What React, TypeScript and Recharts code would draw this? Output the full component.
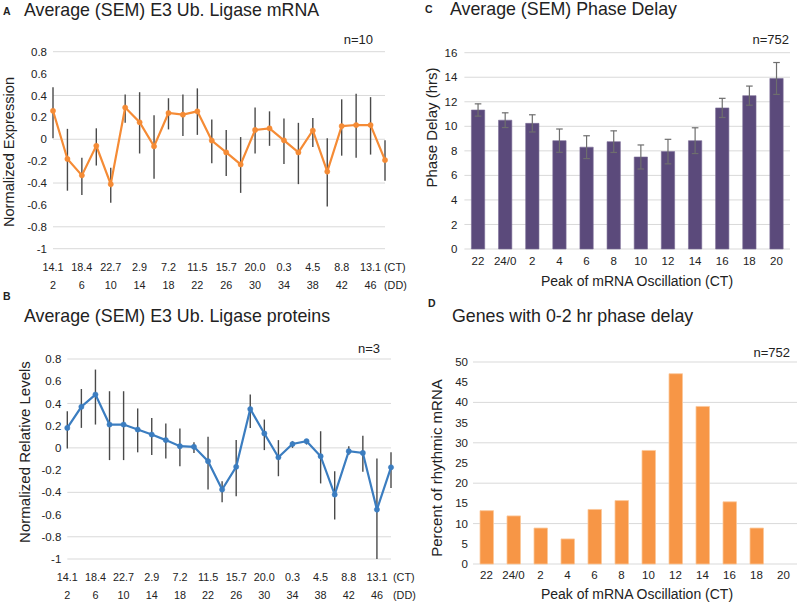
import React from 'react';
import { LineChart, Line, BarChart, Bar, XAxis, YAxis, CartesianGrid, ErrorBar } from 'recharts';

// ---------- Panel A / B: time course ----------
const ddHours = [2, 4, 6, 8, 10, 12, 14, 16, 18, 20, 22, 24, 26, 28, 30, 32, 34, 36, 38, 40, 42, 44, 46, 48];
const ctLabels = ['14.1', '', '18.4', '', '22.7', '', '2.9', '', '7.2', '', '11.5', '', '15.7', '', '20.0', '', '0.3', '', '4.5', '', '8.8', '', '13.1', ''];
const ddLabels = ['2', '', '6', '', '10', '', '14', '', '18', '', '22', '', '26', '', '30', '', '34', '', '38', '', '42', '', '46', ''];

const mrnaMean = [0.26, -0.18, -0.33, -0.06, -0.41, 0.29, 0.155, -0.065, 0.24, 0.225, 0.255, -0.012, -0.12, -0.23, 0.085, 0.1, -0.01, -0.12, 0.08, -0.295, 0.12, 0.13, 0.13, -0.19];
const mrnaUpper = [0.475, 0.095, -0.17, 0.1, -0.26, 0.41, 0.43, 0.22, 0.375, 0.41, 0.465, 0.18, 0.085, 0.02, 0.29, 0.255, 0.19, 0.15, 0.195, 0.01, 0.365, 0.415, 0.385, -0.01];
const mrnaLower = [0.01, -0.47, -0.51, -0.24, -0.58, 0.15, -0.13, -0.36, 0.09, 0.03, 0.04, -0.22, -0.335, -0.49, -0.13, -0.06, -0.225, -0.41, -0.07, -0.615, -0.15, -0.17, -0.14, -0.38];

const proteinMean = [0.18, 0.37, 0.48, 0.21, 0.21, 0.165, 0.12, 0.07, 0.015, 0.01, -0.12, -0.375, -0.17, 0.35, 0.13, -0.085, 0.035, 0.06, -0.075, -0.42, -0.03, -0.045, -0.555, -0.175];
const proteinUpper = [0.33, 0.53, 0.705, 0.51, 0.51, 0.355, 0.27, 0.22, 0.175, 0.05, 0.1, -0.3, 0.07, 0.48, 0.255, 0.07, 0.06, 0.08, 0.15, -0.21, 0.015, 0.11, -0.095, -0.04];
const proteinLower = [-0.005, 0.18, 0.21, -0.11, -0.11, -0.04, -0.065, -0.095, -0.165, -0.045, -0.375, -0.49, -0.435, 0.18, -0.02, -0.255, 0.0, 0.03, -0.32, -0.645, -0.065, -0.215, -1.0, -0.36];

const normTicks = [-1, -0.8, -0.6, -0.4, -0.2, 0, 0.2, 0.4, 0.6, 0.8];

// ---------- Panel C / D: by peak phase ----------
const peakPhases = ['22', '24/0', '2', '4', '6', '8', '10', '12', '14', '16', '18', '20'];
const phaseDelay = [11.33, 10.5, 10.24, 8.83, 8.3, 8.75, 7.5, 7.94, 8.83, 11.5, 12.5, 13.9];
const phaseSem = [0.5, 0.6, 0.7, 0.95, 0.93, 0.88, 0.98, 1.0, 1.05, 0.78, 0.78, 1.3];
const delayTicks = [0, 2, 4, 6, 8, 10, 12, 14, 16];

const percentRhythmic = [13.2, 11.9, 8.9, 6.2, 13.5, 15.7, 28.1, 47.1, 39.0, 15.4, 8.9, 0];
const percentTicks = [0, 5, 10, 15, 20, 25, 30, 35, 40, 45, 50];

const FONT = '"Liberation Sans", Arial, Helvetica, sans-serif';
const TXT = '#222';
const GRID = '#d9d9d9';

const mrnaData = ddHours.map((h, i) => ({
  dd: h,
  value: mrnaMean[i],
  err: [mrnaMean[i] - mrnaLower[i], mrnaUpper[i] - mrnaMean[i]],
}));
const proteinData = ddHours.map((h, i) => ({
  dd: h,
  value: proteinMean[i],
  err: [proteinMean[i] - proteinLower[i], proteinUpper[i] - proteinMean[i]],
}));
const delayData = peakPhases.map((p, i) => ({ phase: p, value: phaseDelay[i], sem: phaseSem[i] }));
const percentData = peakPhases.map((p, i) => ({ phase: p, value: percentRhythmic[i] }));

const makeDualTick = (unitOffset: number) => (props: any) => {
  const { x, y } = props;
  const i = props.payload && props.payload.index != null ? props.payload.index : props.index;
  const last = i === ddHours.length - 1;
  const common = { fontFamily: FONT, fontSize: 10.8, fill: TXT } as any;
  return (
    <g>
      {ctLabels[i] ? (
        <text x={x} y={y + 22} textAnchor="middle" {...common}>{ctLabels[i]}</text>
      ) : null}
      {ddLabels[i] ? (
        <text x={x} y={y + 40} textAnchor="middle" {...common}>{ddLabels[i]}</text>
      ) : null}
      {last ? (
        <>
          <text x={x + unitOffset} y={y + 22} textAnchor="start" {...common}>(CT)</text>
          <text x={x + unitOffset} y={y + 40} textAnchor="start" {...common}>(DD)</text>
        </>
      ) : null}
    </g>
  );
};

const yTickStyle = { fontFamily: FONT, fontSize: 11.5, fill: TXT };

const TimeCourse = ({ data, color, width, height, margin, yWidth, unitOffset }: any) => (
  <LineChart width={width} height={height} data={data} margin={margin}>
    <CartesianGrid vertical={false} stroke={GRID} strokeWidth={1} />
    <XAxis
      dataKey="dd"
      type="category"
      axisLine={false}
      tickLine={false}
      tickSize={0}
      tickMargin={0}
      interval={0}
      height={30}
      tick={makeDualTick(unitOffset)}
    />
    <YAxis
      type="number"
      domain={[-1, 0.8]}
      ticks={normTicks}
      allowDataOverflow
      width={yWidth}
      axisLine={false}
      tickLine={false}
      tickSize={0}
      tickMargin={6}
      tick={yTickStyle}
      tickFormatter={(v: number) => String(v)}
    />
    <Line
      type="linear"
      dataKey="value"
      stroke={color}
      strokeWidth={2.2}
      dot={{ r: 2.6, fill: color, stroke: color, strokeWidth: 0.5 }}
      isAnimationActive={false}
    >
      <ErrorBar dataKey="err" direction="y" width={0} stroke="#4a4a4a" strokeWidth={1.4} />
    </Line>
  </LineChart>
);

const Texts = () => (
  <svg width={800} height={603} style={{ position: 'absolute', left: 0, top: 0, pointerEvents: 'none' }}>
    <g fontFamily={FONT} fill={TXT}>
      {/* Panel A */}
      <text x={3} y={15} fontSize={10.5} fontWeight="bold">A</text>
      <text x={24} y={16} fontSize={17.8}>Average (SEM) E3 Ub. Ligase mRNA</text>
      <text x={373} y={44} fontSize={13} textAnchor="end">n=10</text>
      <text transform="translate(13.5,152) rotate(-90)" fontSize={14.6} textAnchor="middle">Normalized Expression</text>

      {/* Panel B */}
      <text x={3} y={300} fontSize={10.5} fontWeight="bold">B</text>
      <text x={24} y={322} fontSize={17.8}>Average (SEM) E3 Ub. Ligase proteins</text>
      <text x={380} y={353} fontSize={13} textAnchor="end">n=3</text>
      <text transform="translate(30,452) rotate(-90)" fontSize={15} textAnchor="middle">Normalized Relative Levels</text>

      {/* Panel C */}
      <text x={425} y={13} fontSize={10.5} fontWeight="bold">C</text>
      <text x={450} y={15} fontSize={17.8}>Average (SEM) Phase Delay</text>
      <text x={789} y={44} fontSize={13} textAnchor="end">n=752</text>
      <text transform="translate(437,127.5) rotate(-90)" fontSize={15} textAnchor="middle">Phase Delay (hrs)</text>
      <text x={637} y={286} fontSize={14} textAnchor="middle">Peak of mRNA Oscillation (CT)</text>

      {/* Panel D */}
      <text x={428} y={307} fontSize={10.5} fontWeight="bold">D</text>
      <text x={452} y={322} fontSize={17.8}>Genes with 0-2 hr phase delay</text>
      <text x={790} y={357} fontSize={13} textAnchor="end">n=752</text>
      <text transform="translate(442,468) rotate(-90)" fontSize={15} textAnchor="middle">Percent of rhythmic mRNA</text>
      <text x={637} y={599} fontSize={14} textAnchor="middle">Peak of mRNA Oscillation (CT)</text>
    </g>
  </svg>
);

export default function App() {
  return (
    <div style={{ position: 'absolute', left: 0, top: 0, width: 800, height: 603, background: '#fff', overflow: 'hidden', fontFamily: FONT }}>
      <div style={{ position: 'absolute', left: 0, top: 0 }}>
        <TimeCourse
          data={mrnaData}
          color="#f58b35"
          width={420}
          height={300}
          margin={{ top: 51.7, right: 35, bottom: 21.3, left: 0 }}
          yWidth={53}
          unitOffset={-1}
        />
      </div>
      <div style={{ position: 'absolute', left: 0, top: 300 }}>
        <TimeCourse
          data={proteinData}
          color="#3b7dc0"
          width={420}
          height={303}
          margin={{ top: 59, right: 29, bottom: 14, left: 0 }}
          yWidth={67.3}
          unitOffset={2}
        />
      </div>
      <div style={{ position: 'absolute', left: 400, top: 0 }}>
        <BarChart width={400} height={300} data={delayData} margin={{ top: 52.7, right: 10, bottom: 21, left: 0 }}>
          <CartesianGrid vertical={false} stroke={GRID} strokeWidth={1} />
          <XAxis
            dataKey="phase"
            axisLine={false}
            tickLine={false}
            tickSize={0}
            tickMargin={8}
            interval={0}
            height={30}
            tick={yTickStyle}
          />
          <YAxis
            type="number"
            domain={[0, 16]}
            ticks={delayTicks}
            width={64.4}
            axisLine={false}
            tickLine={false}
            tickSize={0}
            tickMargin={7}
            tick={yTickStyle}
          />
          <Bar dataKey="value" fill="#5b4a7b" stroke="#7a6c96" strokeWidth={0.6} barSize={13.3} isAnimationActive={false}>
            <ErrorBar dataKey="sem" direction="y" width={3.3} stroke="#6e6e6e" strokeWidth={1.2} />
          </Bar>
        </BarChart>
      </div>
      <div style={{ position: 'absolute', left: 400, top: 300 }}>
        <BarChart width={400} height={303} data={percentData} margin={{ top: 62, right: 3, bottom: 14, left: 0 }}>
          <CartesianGrid vertical={false} stroke={GRID} strokeWidth={1} />
          <XAxis
            dataKey="phase"
            axisLine={false}
            tickLine={false}
            tickSize={0}
            tickMargin={7}
            interval={0}
            height={25}
            tick={yTickStyle}
          />
          <YAxis
            type="number"
            domain={[0, 50]}
            ticks={percentTicks}
            width={73}
            axisLine={false}
            tickLine={false}
            tickSize={0}
            tickMargin={5}
            tick={yTickStyle}
          />
          <Bar dataKey="value" fill="#f79646" stroke="#fbc89a" strokeWidth={0.8} barSize={13.5} isAnimationActive={false} />
        </BarChart>
      </div>
      <Texts />
    </div>
  );
}
